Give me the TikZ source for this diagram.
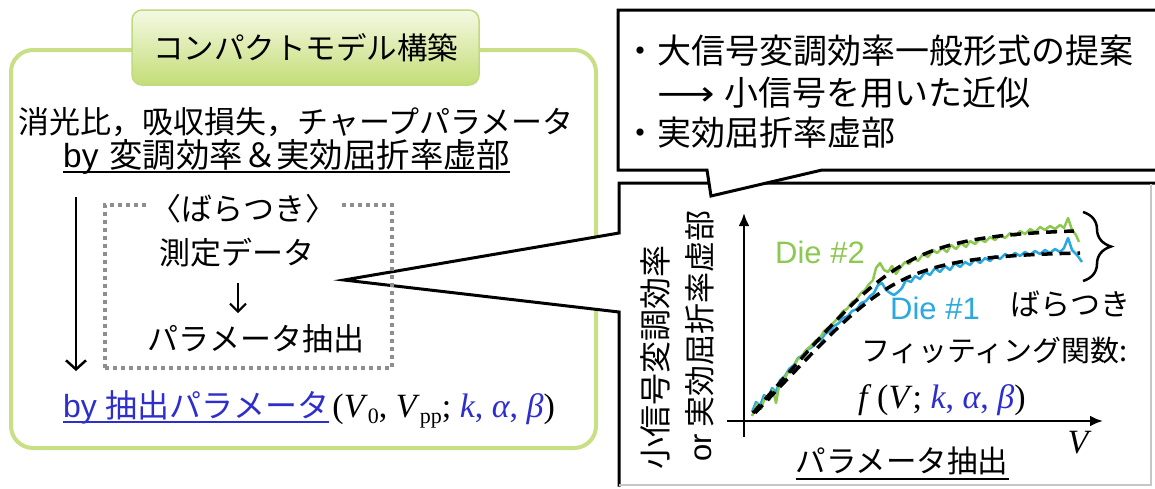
\documentclass[tikz,border=0pt]{standalone}
\usepackage{fontspec}
\setmainfont{Noto Sans CJK JP}
\newfontfamily\arial{Liberation Sans}
\newfontfamily\tms{Liberation Serif}
\newfontfamily\dejavu{DejaVu Sans}
\usetikzlibrary{arrows.meta,decorations.pathreplacing}
\definecolor{gline}{HTML}{C8DF86}
\definecolor{gtop}{HTML}{F4F9E4}
\definecolor{gbot}{HTML}{C4DD76}
\definecolor{gborder}{HTML}{C0DA7E}
\definecolor{dgreen}{HTML}{8DC850}
\definecolor{dblue}{HTML}{2AA8E0}
\definecolor{pblue}{HTML}{2E2ECC}
\definecolor{dotgray}{HTML}{8E8E8E}
\newcommand{\fs}[1]{\fontsize{#1}{#1}\selectfont}
\newcommand{\subtx}[1]{\raisebox{-6pt}{\fs{22}#1}}
\begin{document}
\begin{tikzpicture}[x=1pt,y=-1pt,
  t/.style={inner sep=0pt},
  jp/.style={t, font=\fs{31}},
  titlebox/.style={draw=gborder, line width=1.5pt, rounded corners=10pt,
    top color=gtop, bottom color=gbot, minimum width=347pt, minimum height=75pt,
    inner sep=0pt},
  dotbox/.style={draw=dotgray, line width=4pt, dash pattern=on 4pt off 4pt,
    minimum width=287pt, minimum height=163pt, inner sep=0pt},
  ax/.style={line width=2.5pt, -{Latex[length=13pt,width=11pt]}},
  barb/.style={line width=2.5pt, -{Straight Barb[length=9pt,width=20pt,line width=2.5pt]}},
  sbarb/.style={line width=2pt, -{Straight Barb[length=8pt,width=16pt,line width=2pt]}},
  fitline/.style={line width=3.5pt, dash pattern=on 11pt off 7pt},
  data/.style={line width=2.5pt, line join=round},
  frame/.style={line width=3pt, line join=miter},
]
\useasboundingbox (0,0) rectangle (1155,488);
\fill[white] (0,0) rectangle (1155,488);

% ---------- left green box ----------
\draw[gline, line width=4pt, rounded corners=22pt] (11,50) rectangle (596,448);
\node[titlebox] (title) at (305.5,47.5) {};
\node[t, font=\fs{30.5}] (titletext) at (305.5,47.5) {コンパクトモデル構築};

% ---------- graph box with pointer ----------
\fill[white] (1170,183) -- (619,183) -- (619,233) -- (344,280) -- (619,312) -- (619,485) -- (1170,485) -- cycle;
\draw[frame] (1170,183) -- (619,183) -- (619,233) -- (344,280) -- (619,312) -- (619,486.5);
\draw[gray!45, line width=1.5pt] (619,485) -- (1151,485) -- (1151,184);

% ---------- top callout ----------
\fill[white] (1170,10) -- (618,10) -- (618,170) -- (707,170) -- (711,196) -- (822,170) -- (1170,170) -- cycle;
\draw[frame] (1170,10) -- (618,10) -- (618,170) -- (707,170) -- (711,196) -- (822,170) -- (1170,170);

\node[t, anchor=base west, font=\fs{34}] (r1) at (623,63) {・大信号変調効率一般形式の提案};
\node[t, anchor=base west, font=\fs{34}] (r2) at (657,105) {\scalebox{1.18}[1]{\dejavu ⟶}\hspace{10pt}小信号を用いた近似};
\node[t, anchor=base west, font=\fs{34}] (r3) at (623,145) {・実効屈折率虚部};

% ---------- left box content ----------
\node[jp] (l1) at (296,122) {消光比，吸収損失，チャープパラメータ};
\node[t, anchor=base west, font=\fs{33.4}] (l2) at (63,167) {{\arial by}\hspace{11pt}変調効率＆実効屈折率虚部};
\draw[line width=1.8pt] ([yshift=-5pt]l2.base west) -- ([yshift=-5pt]l2.base east);

\node[dotbox] (db) at (248.5,286.5) {};
\node[jp, fill=white, inner xsep=3pt, inner ysep=1pt] (var) at (243,209) {〈ばらつき〉};
\node[jp] (meas) at (237,253) {測定データ};
\node[jp] (ext) at (256,339) {パラメータ抽出};
\coordinate (sa1) at (238,283);
\coordinate (sa2) at (238,313);
\draw[sbarb] (sa1) -- (sa2);
\coordinate (la1) at (76,197);
\coordinate (la2) at (76,371);
\draw[barb] (la1) -- (la2);

\node[t, anchor=base west, font=\fs{32}, text=pblue] (by) at (63,417) {{\arial by}\hspace{9pt}抽出パラメータ};
\draw[pblue, line width=1.8pt] ([yshift=-5pt]by.base west) -- ([yshift=-5pt]by.base east);
\node[t, anchor=base west, font=\tms\fs{34}] (par) at ([xshift=3pt]by.base east)
  {(\textit{V}\subtx{0}, \textit{V}\subtx{pp}; \textcolor{pblue}{\textit{k}, \textit{α}, \textit{β}})};

% ---------- plot ----------
\node[t, rotate=90, font=\fs{32}] (ylab1) at (655,357) {小信号変調効率};
\node[t, rotate=90, font=\fs{31}] (ylab2) at (700,336) {{\arial or} 実効屈折率虚部};

\coordinate (yb) at (744,437);
\coordinate (yt) at (744,213);
\coordinate (xl) at (727,421);
\coordinate (xr) at (1103,421);
\draw[ax] (yb) -- (yt);
\draw[ax] (xl) -- (xr);

\draw[data, dblue] (752,412) -- (756,402) -- (760,406) -- (764,395) -- (768,399) -- (772,388) -- (776,392) -- (780,380) -- (785,376) -- (789,369) -- (794,365) -- (798,358) -- (803,355) -- (807,350) -- (812,347) -- (816,342) -- (821,340) -- (825,334) -- (830,331) -- (834,326) -- (839,323) -- (843,318) -- (848,316) -- (852,311) -- (857,309) -- (861,303) -- (866,301) -- (870,296) -- (874,293) -- (878,285) -- (882,283) -- (886,290) -- (890,293) -- (894,295) -- (898,292) -- (902,288) -- (906,280) -- (911,282) -- (915,276) -- (920,279) -- (925,272) -- (930,275) -- (935,268) -- (940,272) -- (945,266) -- (950,270) -- (955,263) -- (960,267) -- (965,262) -- (970,265) -- (975,259) -- (980,263) -- (985,258) -- (990,261) -- (995,256) -- (1000,259) -- (1005,254) -- (1010,257) -- (1015,253) -- (1020,256) -- (1025,252) -- (1030,255) -- (1035,251) -- (1040,254) -- (1045,250) -- (1050,253) -- (1055,249) -- (1060,252) -- (1064,248) -- (1068,238) -- (1072,250) -- (1077,255) -- (1082,262);

\draw[data, dgreen] (752,416) -- (757,404) -- (761,409) -- (765,397) -- (769,400) -- (773,390) -- (776,403) -- (779,386) -- (784,380) -- (788,372) -- (793,368) -- (797,360) -- (802,356) -- (806,350) -- (811,346) -- (815,341) -- (820,338) -- (824,331) -- (829,327) -- (834,322) -- (838,318) -- (843,311) -- (847,309) -- (852,302) -- (856,300) -- (861,293) -- (865,290) -- (869,284) -- (873,280) -- (876,268) -- (880,263) -- (884,270) -- (888,272) -- (892,266) -- (896,274) -- (900,268) -- (905,262) -- (909,264) -- (914,258) -- (918,261) -- (923,254) -- (928,257) -- (933,250) -- (937,253) -- (942,248) -- (947,252) -- (951,245) -- (956,249) -- (961,243) -- (966,247) -- (970,241) -- (975,244) -- (980,239) -- (985,242) -- (990,237) -- (995,240) -- (1000,235) -- (1005,238) -- (1010,233) -- (1015,236) -- (1020,231) -- (1025,234) -- (1030,229) -- (1035,232) -- (1040,227) -- (1045,230) -- (1050,226) -- (1055,229) -- (1060,225) -- (1064,228) -- (1068,218) -- (1072,230) -- (1076,235) -- (1079,242);

\draw[fitline] plot[domain=753:1074, samples=70] (\x, {413-(1.13*(\x-753))/pow(1+pow(1.13*(\x-753)/185,4),0.25)});
\draw[fitline] plot[domain=755:1080, samples=70] (\x, {413-(1.05*(\x-755))/pow(1+pow(1.05*(\x-755)/162,4),0.25)});

\draw[line width=2.5pt, decorate, decoration={brace, amplitude=28pt}] (1083,212) -- (1083,281);

\node[t, font=\arial\fs{31}, text=dgreen] (die2) at (820,252) {Die \#2};
\node[t, font=\arial\fs{31}, text=dblue] (die1) at (935,308) {Die \#1};
\node[t, font=\fs{30}] (bara) at (1070,304) {ばらつき};
\node[t, anchor=west, font=\fs{29}] (fitf) at (861,350) {フィッティング関数:};
\node[t, anchor=west, font=\tms\fs{34}] (func) at (858,400)
  {\textit{f}\,(\textit{V}; \textcolor{pblue}{\textit{k}, \textit{α}, \textit{β}})};
\node[t, font=\tms\itshape\fs{34}] (vlab) at (1078,443) {V};
\node[t, font=\fs{30.5}] (pex) at (902,461) {パラメータ抽出};
\draw[line width=1.8pt] ([yshift=-4pt]pex.south west) -- ([yshift=-4pt]pex.south east);
\end{tikzpicture}
\end{document}
